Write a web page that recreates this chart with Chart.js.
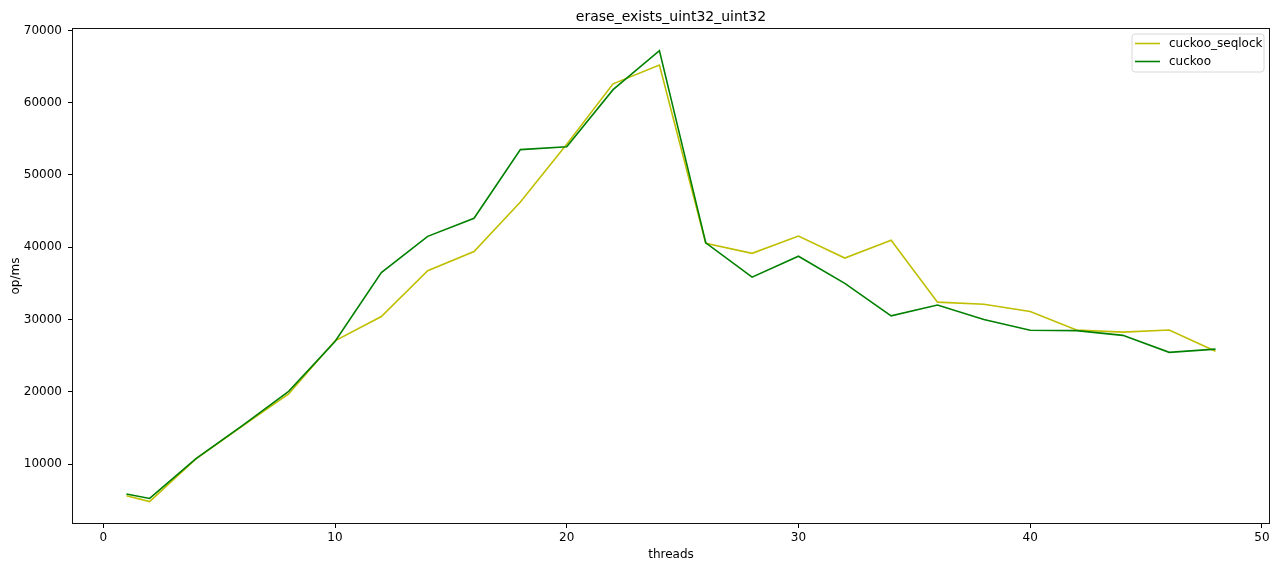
<!DOCTYPE html>
<html>
<head>
<meta charset="utf-8">
<script src="https://cdn.jsdelivr.net/npm/chart.js@4/dist/chart.umd.min.js"></script>
<style>
  html, body { margin: 0; padding: 0; background: #fff; }
  #wrap { width: 1282px; height: 562px; }
</style>
</head>
<body>
<div id="wrap"><canvas id="c" width="1282" height="562"></canvas></div>
<script>
// Thread counts on the x axis
const threads = [1, 2, 4, 6, 8, 10, 12, 14, 16, 18, 20, 22, 24, 26, 28, 30, 32, 34, 36, 38, 40, 42, 44, 46, 48];

// Throughput (op/ms) per implementation
const seqlockOps = [5600, 4800, 10700, 15250, 19700, 27050, 30400, 36750, 39400, 46250, 54250, 62600, 65200,
                    40550, 39150, 41550, 38500, 40950, 32400, 32100, 31100, 28550, 28250, 28550, 25600];
const cuckooOps  = [5850, 5240, 10750, 15300, 20050, 26950, 36500, 41500, 44000, 53500, 53900, 61800, 67200,
                    40600, 35850, 38750, 35000, 30500, 32000, 30000, 28500, 28450, 27800, 25450, 25900];

const seriesNames = ['cuckoo_seqlock', 'cuckoo'];
const xTickValues = [0, 10, 20, 30, 40, 50];
const yTickValues = [10000, 20000, 30000, 40000, 50000, 60000, 70000];
const chartTitle = 'erase_exists_uint32_uint32';
const xTitle = 'threads';
const yTitle = 'op/ms';

const FONT = "'DejaVu Sans', sans-serif";

function points(ys) {
  return threads.map((t, i) => ({ x: t, y: ys[i] }));
}

// Frame, title and in-plot legend
const decorations = {
  id: 'decorations',
  afterDraw(chart) {
    const ctx = chart.ctx;
    const a = chart.chartArea;
    ctx.save();
    // full box around the plot area
    ctx.strokeStyle = '#111';
    ctx.lineWidth = 1;
    ctx.strokeRect(Math.round(a.left) + 0.5, Math.round(a.top) + 0.5,
                   Math.round(a.right - a.left) - 1, Math.round(a.bottom - a.top) - 1);

    // title
    ctx.fillStyle = '#000';
    ctx.font = '14px ' + FONT;
    ctx.textAlign = 'center';
    ctx.textBaseline = 'alphabetic';
    ctx.fillText(chartTitle, (a.left + a.right) / 2, 21);

    // legend, upper right
    const ds = chart.data.datasets;
    ctx.font = '12px ' + FONT;
    const bx = 1132, by = 34;
    const bw = 132, bh = 38;
    ctx.beginPath();
    const r = 3;
    ctx.moveTo(bx + r, by);
    ctx.lineTo(bx + bw - r, by);
    ctx.quadraticCurveTo(bx + bw, by, bx + bw, by + r);
    ctx.lineTo(bx + bw, by + bh - r);
    ctx.quadraticCurveTo(bx + bw, by + bh, bx + bw - r, by + bh);
    ctx.lineTo(bx + r, by + bh);
    ctx.quadraticCurveTo(bx, by + bh, bx, by + bh - r);
    ctx.lineTo(bx, by + r);
    ctx.quadraticCurveTo(bx, by, bx + r, by);
    ctx.closePath();
    ctx.fillStyle = 'rgba(255,255,255,0.8)';
    ctx.fill();
    ctx.strokeStyle = '#d8d8d8';
    ctx.lineWidth = 1;
    ctx.stroke();

    ds.forEach((d, i) => {
      const y = by + 9.5 + i * 18;
      ctx.strokeStyle = d.borderColor;
      ctx.lineWidth = d.borderWidth;
      ctx.beginPath();
      ctx.moveTo(bx + 3, y);
      ctx.lineTo(bx + 28, y);
      ctx.stroke();
      ctx.fillStyle = '#000';
      ctx.textAlign = 'left';
      ctx.textBaseline = 'middle';
      ctx.fillText(d.label, bx + 37, y);
    });
    ctx.restore();
  }
};

new Chart(document.getElementById('c'), {
  type: 'line',
  data: {
    datasets: [
      {
        label: seriesNames[0],
        data: points(seqlockOps),
        borderColor: '#bfbf00',
        backgroundColor: '#bfbf00',
        borderWidth: 1.6,
        pointRadius: 0,
        tension: 0,
        order: 2
      },
      {
        label: seriesNames[1],
        data: points(cuckooOps),
        borderColor: '#008000',
        backgroundColor: '#008000',
        borderWidth: 1.6,
        pointRadius: 0,
        tension: 0,
        order: 1
      }
    ]
  },
  options: {
    responsive: false,
    animation: false,
    events: [],
    layout: { padding: { left: 0, right: 12, top: 28, bottom: 0 } },
    plugins: {
      legend: { display: false },
      title: { display: false },
      tooltip: { enabled: false }
    },
    scales: {
      x: {
        type: 'linear',
        min: -1.35,
        max: 50.35,
        afterBuildTicks(scale) { scale.ticks = xTickValues.map(v => ({ value: v })); },
        afterFit(scale) { scale.height = 38; },
        grid: { drawOnChartArea: false, drawTicks: true, tickLength: 4, color: '#000', tickColor: '#000' },
        border: { display: false },
        ticks: { color: '#000', font: { family: FONT, size: 12 }, padding: 3, maxRotation: 0 },
        title: { display: true, text: xTitle, color: '#000', font: { family: FONT, size: 12 }, padding: { top: 0, bottom: 0 } }
      },
      y: {
        type: 'linear',
        min: 1700,
        max: 70330,
        afterBuildTicks(scale) { scale.ticks = yTickValues.map(v => ({ value: v })); },
        afterFit(scale) { scale.width = 72; },
        grid: { drawOnChartArea: false, drawTicks: true, tickLength: 4, color: '#000', tickColor: '#000' },
        border: { display: false },
        ticks: { color: '#000', font: { family: FONT, size: 12 }, padding: 6, callback: v => String(v) },
        title: { display: true, text: yTitle, color: '#000', font: { family: FONT, size: 12 }, padding: { top: 9, bottom: 0 } }
      }
    }
  },
  plugins: [decorations]
});
</script>
</body>
</html>
